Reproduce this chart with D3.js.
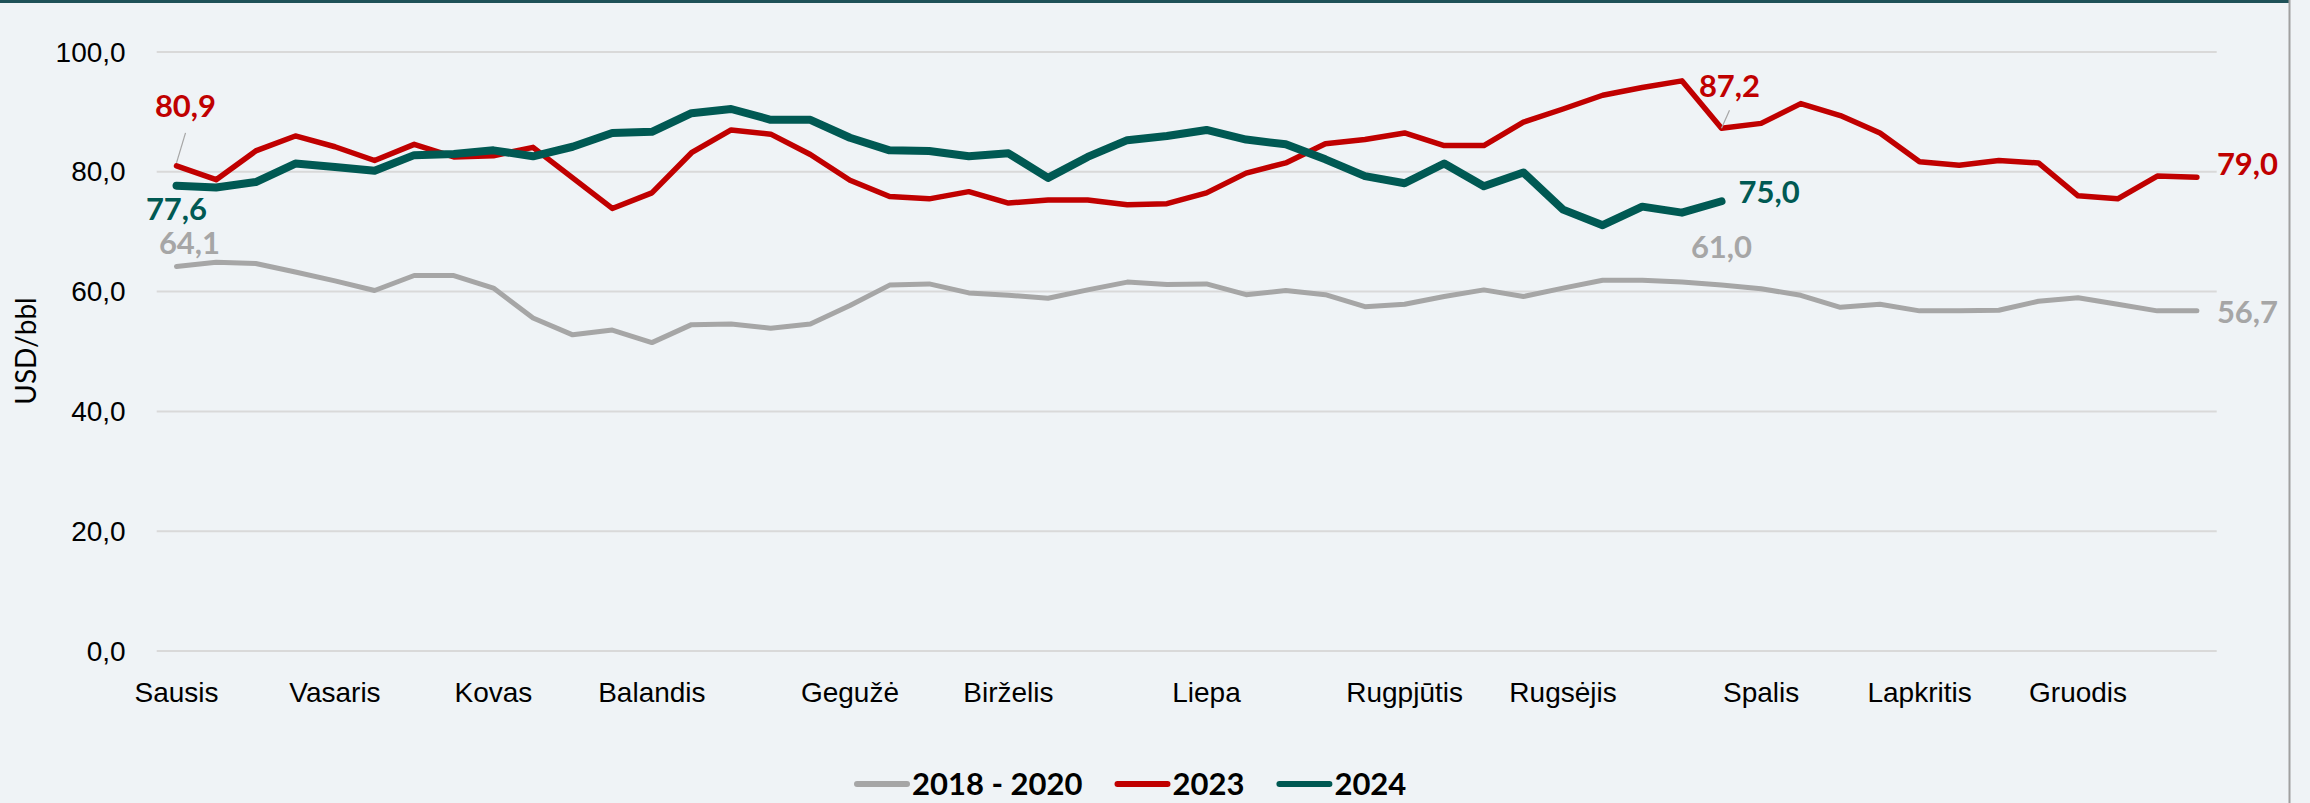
<!DOCTYPE html>
<html>
<head>
<meta charset="utf-8">
<script src="https://cdn.jsdelivr.net/npm/d3@7"></script>
<style>
  body { margin: 0; background: #eff3f6; }
  svg { display: block; font-family: Lato, "Open Sans", sans-serif; }
</style>
</head>
<body>
<div id="chart"></div>
<script>
// weekly categories, month names shown on the week where each month starts
var weekNo = [1,2,3,4,5,6,7,8,9,10,11,12,13,14,15,16,17,18,19,20,21,22,23,24,25,26,
              27,28,29,30,31,32,33,34,35,36,37,38,39,40,41,42,43,44,45,46,47,48,49,50,51,52];
var monthNames = ["Sausis","Vasaris","Kovas","Balandis","Gegužė","Birželis","Liepa",
                  "Rugpjūtis","Rugsėjis","Spalis","Lapkritis","Gruodis"];
var monthStartWeek = [1,5,9,13,18,22,27,32,36,41,45,49];

var seriesNames = ["2018 - 2020","2023","2024"];

var avg2018_2020 = [64.1,64.8,64.6,63.2,61.7,60.1,62.6,62.6,60.5,55.5,52.7,53.5,51.4,54.4,54.5,53.8,
                    54.5,57.6,61.0,61.2,59.7,59.3,58.8,60.2,61.5,61.1,61.2,59.4,60.1,59.4,57.4,57.8,
                    59.1,60.2,59.1,60.5,61.8,61.8,61.5,61.0,60.4,59.3,57.3,57.8,56.7,56.7,56.8,58.3,
                    58.9,57.8,56.7,56.7];
var year2023 = [80.9,78.6,83.4,85.9,84.1,81.8,84.5,82.4,82.6,84.0,78.9,73.8,76.4,83.1,86.9,86.2,
                82.8,78.5,75.8,75.4,76.6,74.7,75.2,75.2,74.4,74.6,76.4,79.7,81.4,84.6,85.3,86.4,
                84.3,84.3,88.2,90.4,92.7,94.0,95.1,87.2,88.0,91.3,89.3,86.4,81.6,81.0,81.8,81.4,
                75.9,75.4,79.2,79.0];
var year2024 = [77.6,77.3,78.2,81.3,80.7,80.1,82.7,82.9,83.5,82.5,84.1,86.4,86.6,89.7,90.4,88.6,
                88.6,85.6,83.5,83.4,82.5,83.0,78.9,82.4,85.2,85.9,86.9,85.3,84.5,82.0,79.2,78.0,
                81.3,77.5,79.8,73.6,71.0,74.1,73.1,75.0];

var yTicks = [0,20,40,60,80,100];

var W = 2310, H = 803;
var plot = { left: 156.7, right: 2216.7, top: 51.5, bottom: 650.5 };

var lt = d3.formatLocale({ decimal: ",", thousands: " ", grouping: [3], currency: ["", ""] });
var fmt = lt.format(".1f");

var svg = d3.select("#chart").append("svg")
  .attr("width", W)
  .attr("height", H);

svg.append("rect").attr("width", W).attr("height", H).attr("fill", "#eff3f6");
// frame: dark top rule + thin grey right edge
svg.append("rect").attr("x", 0).attr("y", 0).attr("width", 2290).attr("height", 3).attr("fill", "#1e5158");
svg.append("line").attr("x1", 2289.5).attr("x2", 2289.5).attr("y1", 0).attr("y2", H)
  .attr("stroke", "#a0a0a0").attr("stroke-width", 2);

var x = d3.scaleBand().domain(weekNo).range([plot.left, plot.right]).padding(0);
var y = d3.scaleLinear().domain([0, 100]).range([plot.bottom, plot.top]);
function cx(i) { return x(weekNo[i]) + x.bandwidth() / 2; }

// y axis + gridlines
var yAxis = svg.append("g")
  .attr("transform", "translate(" + plot.left + ",0)")
  .call(d3.axisLeft(y).tickValues(yTicks).tickFormat(fmt).tickSize(-(plot.right - plot.left)).tickPadding(31));
yAxis.select(".domain").remove();
yAxis.selectAll(".tick line").attr("stroke", "#d9d9d9").attr("stroke-width", 2);
yAxis.selectAll(".tick text").attr("font-size", 28).attr("fill", "#000").attr("dy", "0.34em");

// x axis: only month starts get a label
var xAxis = svg.append("g")
  .attr("transform", "translate(0," + plot.bottom + ")")
  .call(d3.axisBottom(x).tickValues(monthStartWeek).tickSize(0)
    .tickFormat(function(d) { return monthNames[monthStartWeek.indexOf(d)]; }));
xAxis.select(".domain").remove();
xAxis.selectAll(".tick text").attr("font-size", 28).attr("fill", "#000").attr("y", 51.5).attr("dy", 0);

svg.append("text")
  .attr("transform", "translate(36," + ((plot.top + plot.bottom) / 2) + ") rotate(-90)")
  .attr("text-anchor", "middle")
  .attr("font-size", 28)
  .attr("fill", "#000")
  .text("USD/bbl");

var series = [
  { name: seriesNames[0], values: avg2018_2020, color: "#a6a6a6", width: 5 },
  { name: seriesNames[1], values: year2023, color: "#c00000", width: 5.5 },
  { name: seriesNames[2], values: year2024, color: "#005953", width: 8 }
];

var line = d3.line()
  .x(function(d, i) { return cx(i); })
  .y(function(d) { return y(d); });

svg.selectAll("path.series").data(series).enter().append("path")
  .attr("class", "series")
  .attr("d", function(s) { return line(s.values); })
  .attr("fill", "none")
  .attr("stroke", function(s) { return s.color; })
  .attr("stroke-width", function(s) { return s.width; })
  .attr("stroke-linejoin", "round")
  .attr("stroke-linecap", "round");

// data labels: series index, week index, offset from the point
var spots = [
  { s: 1, i: 0,  dx: 9,  dy: -49, anchor: "middle", leader: [0, -3, 9, -33] },
  { s: 2, i: 0,  dx: 0,  dy: 34,  anchor: "middle" },
  { s: 0, i: 0,  dx: 13, dy: -13, anchor: "middle" },
  { s: 1, i: 39, dx: 8,  dy: -31, anchor: "middle", leader: [0, 0, 8, -18] },
  { s: 2, i: 39, dx: 17, dy: 2,   anchor: "start" },
  { s: 0, i: 39, dx: 0,  dy: -27, anchor: "middle" },
  { s: 1, i: 51, dx: 20, dy: -2,  anchor: "start" },
  { s: 0, i: 51, dx: 20, dy: 12,  anchor: "start" }
];

spots.forEach(function(p) {
  var s = series[p.s];
  var px = cx(p.i), py = y(s.values[p.i]);
  if (p.leader) {
    svg.append("line")
      .attr("x1", px + p.leader[0]).attr("y1", py + p.leader[1])
      .attr("x2", px + p.leader[2]).attr("y2", py + p.leader[3])
      .attr("stroke", "#a6a6a6").attr("stroke-width", 1.2);
  }
  svg.append("text")
    .attr("x", px + p.dx)
    .attr("y", py + p.dy)
    .attr("text-anchor", p.anchor)
    .attr("font-size", 31)
    .attr("font-weight", "bold")
    .attr("fill", s.color)
    .text(fmt(s.values[p.i]));
});

// legend along the bottom
var lx = 854;
series.forEach(function(s) {
  svg.append("line")
    .attr("x1", lx + 3).attr("x2", lx + 53)
    .attr("y1", 784).attr("y2", 784)
    .attr("stroke", s.color).attr("stroke-width", 6).attr("stroke-linecap", "round");
  var t = svg.append("text")
    .attr("x", lx + 58).attr("y", 795)
    .attr("font-size", 31).attr("font-weight", "bold").attr("fill", "#000")
    .text(s.name);
  lx = lx + 58 + t.node().getComputedTextLength() + 32;
});
</script>
</body>
</html>
